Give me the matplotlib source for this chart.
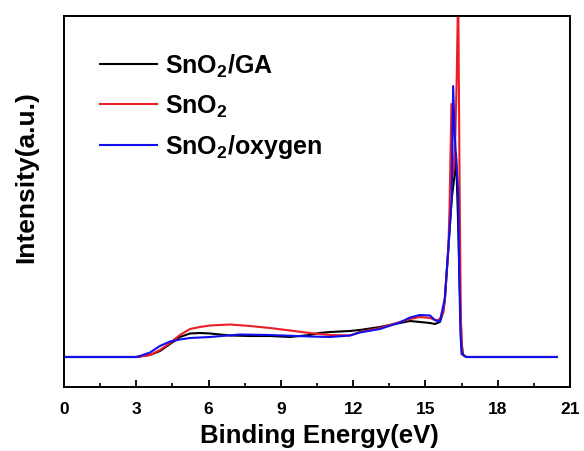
import matplotlib
matplotlib.use("Agg")
import matplotlib.pyplot as plt

plt.rcParams['font.family'] = ['Liberation Sans', 'DejaVu Sans']
plt.rcParams['font.weight'] = 'bold'
plt.rcParams['mathtext.fontset'] = 'custom'
plt.rcParams['mathtext.rm'] = 'Liberation Sans:bold'
plt.rcParams['mathtext.default'] = 'rm'

# energy (eV) / intensity (a.u.)
e_ga = [0, 3.0, 3.57, 3.98, 4.4, 4.81, 5.23, 5.64, 6.06, 6.9, 7.7, 8.55, 9.38, 10.2, 10.6,
        11.04, 11.87, 12.28, 13.11, 13.94, 14.36, 14.77, 15.19, 15.39, 15.6, 15.74, 15.81,
        15.95, 16.09, 16.2, 16.27, 16.35, 16.42, 16.5, 16.56, 16.7, 20.45]
i_ga = [0, 0, 0.2, 0.6, 1.3, 2.0, 2.35, 2.4, 2.35, 2.15, 2.1, 2.1, 2.0, 2.2, 2.4,
        2.5, 2.6, 2.7, 3.0, 3.4, 3.6, 3.5, 3.4, 3.3, 3.5, 4.5, 5.8,
        10.8, 15.8, 18.0, 20.3, 14.0, 7.0, 1.5, 0.2, 0, 0]

e_sno2 = [0, 3.0, 3.57, 3.98, 4.4, 4.81, 5.23, 5.64, 6.06, 6.9, 7.72, 8.55, 9.38, 10.2,
          11.04, 11.87, 12.28, 13.11, 13.94, 14.36, 14.77, 15.19, 15.46, 15.6, 15.74, 15.81,
          15.95, 16.0, 16.08, 16.14, 16.22, 16.3, 16.36, 16.42, 16.47, 16.52, 16.7, 20.45]
i_sno2 = [0, 0, 0.2, 0.7, 1.4, 2.2, 2.8, 3.0, 3.15, 3.25, 3.1, 2.9, 2.65, 2.4,
          2.2, 2.15, 2.5, 2.9, 3.5, 3.8, 4.0, 3.9, 3.65, 3.8, 4.5, 5.8,
          10.8, 14.8, 25.3, 18.0, 20.0, 28.0, 37.0, 16.6, 4.0, 0.3, 0, 0]

e_oxy = [0, 3.0, 3.15, 3.57, 3.98, 4.4, 4.81, 5.23, 6.06, 7.3, 8.55, 10.2, 11.04, 11.87,
         12.28, 13.11, 13.94, 14.36, 14.77, 15.19, 15.39, 15.6, 15.8, 15.95, 16.09, 16.15,
         16.22, 16.36, 16.4, 16.45, 16.5, 16.7, 20.45]
i_oxy = [0, 0, 0.1, 0.45, 1.1, 1.55, 1.75, 1.9, 2.0, 2.25, 2.2, 2.05, 2.0, 2.15,
         2.45, 2.8, 3.45, 3.95, 4.2, 4.15, 3.7, 3.55, 5.8, 10.8, 15.8, 27.1,
         22.0, 16.5, 9.1, 2.5, 0.3, 0, 0]

fig = plt.figure(figsize=(5.84, 4.52), dpi=100)
ax = fig.add_axes([0.1096, 0.1416, 0.8664, 0.8208])

ax.plot(e_ga, i_ga, color='black', lw=1.5, label=r'SnO$_2$/GA')
ax.plot(e_sno2, i_sno2, color='#ee1c25', lw=1.5, label=r'SnO$_2$')
ax.plot(e_oxy, i_oxy, color='#1010ee', lw=1.5, label=r'SnO$_2$/oxygen')

ax.set_xlim(0, 21)
ax.set_ylim(-3.0, 34.1)
ax.set_xticks(range(0, 22, 3))
ax.set_xticks([1.5 + 3 * k for k in range(7)], minor=True)
ax.set_yticks([])
ax.tick_params(axis='x', which='major', direction='in', length=5, width=1.3,
               labelsize=12.5, pad=10)
ax.tick_params(axis='x', which='minor', direction='in', length=3, width=1.2)
for s in ax.spines.values():
    s.set_linewidth(1.4)

ax.set_xlabel('Binding Energy(eV)', fontsize=18.5, fontweight='bold')
ax.set_ylabel('Intensity(a.u.)', fontsize=19, fontweight='bold')
ax.xaxis.set_label_coords(0.504, -0.096)
ax.yaxis.set_label_coords(-0.051, 0.569)

ax.legend(loc='upper left', bbox_to_anchor=(0.026, 0.965), frameon=False,
          fontsize=18, handlelength=2.3, handletextpad=0.32, labelspacing=0.55)

fig.savefig('out.png', dpi=100)
